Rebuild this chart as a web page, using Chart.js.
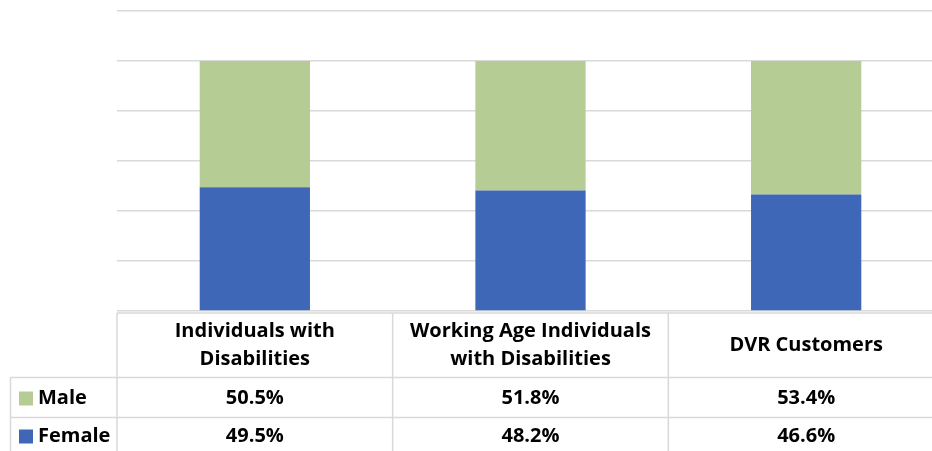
<!DOCTYPE html>
<html>
<head>
<meta charset="utf-8">
<script src="https://cdn.jsdelivr.net/npm/chart.js@4.4.0/dist/chart.umd.min.js"></script>
<style>
  html, body { margin: 0; padding: 0; background: #fff; overflow: hidden; }
  #wrap { width: 932px; height: 451px; overflow: hidden; position: relative; }
  #wrap canvas { position: absolute; left: 0; top: 0; }
</style>
</head>
<body>
<div id="wrap"><canvas id="barChart" width="944" height="451"></canvas></div>
<script>
// data
var categories = [
    ['Individuals with', 'Disabilities'],
    ['Working Age Individuals', 'with Disabilities'],
    ['DVR Customers']
];
var maleValues = [50.5, 51.8, 53.4];
var femaleValues = [49.5, 48.2, 46.6];
var yTicks = [0, 20, 40, 60, 80, 100, 120];

var green = '#b5cc95';
var blue = '#3e67b7';
var lineColor = '#d9d9d9';
var font = '700 20px "Open Sans", sans-serif';

// data table under the bars
var tablePlugin = {
    id: 'dataTable',
    afterDraw: function(chart) {
        var c = chart.ctx;
        var x = chart.scales.x;
        var area = chart.chartArea;
        var half = (x.getPixelForValue(1) - x.getPixelForValue(0)) / 2;
        var top = area.bottom + 2;
        var row1 = 377.5, row2 = 417.5, bottom = chart.height;
        var legLeft = 10.5;

        c.save();
        c.strokeStyle = lineColor;
        c.lineWidth = 1.5;
        c.beginPath();
        // horizontal
        c.moveTo(area.left, top); c.lineTo(area.right, top);
        c.moveTo(legLeft, row1); c.lineTo(area.right, row1);
        c.moveTo(legLeft, row2); c.lineTo(area.right, row2);
        // vertical
        c.moveTo(legLeft, row1); c.lineTo(legLeft, bottom);
        c.moveTo(area.left, top); c.lineTo(area.left, bottom);
        for (var i = 0; i < categories.length; i++) {
            var bx = x.getPixelForValue(i) + half;
            c.moveTo(bx, top); c.lineTo(bx, bottom);
        }
        c.stroke();

        c.fillStyle = '#000';
        c.font = font;
        c.textAlign = 'center';
        c.textBaseline = 'middle';
        var headMid = (top + row1) / 2;
        for (var j = 0; j < categories.length; j++) {
            var cx = x.getPixelForValue(j);
            var lines = categories[j];
            var lh = 28;
            var y0 = headMid - (lines.length - 1) * lh / 2;
            lines.forEach(function(t, k) { c.fillText(t, cx, y0 + k * lh); });
            c.fillText(maleValues[j].toFixed(1) + '%', cx, (row1 + row2) / 2 + 1);
            c.fillText(femaleValues[j].toFixed(1) + '%', cx, row2 + 19);
        }

        // legend keys
        c.textAlign = 'left';
        var ds = chart.data.datasets;
        var keys = [[ds[1], (row1 + row2) / 2 + 1], [ds[0], row2 + 19]];
        keys.forEach(function(k) {
            c.fillStyle = k[0].backgroundColor;
            c.fillRect(19, k[1] - 7, 14, 14);
            c.fillStyle = '#000';
            c.fillText(k[0].label, 38, k[1]);
        });
        c.restore();
    }
};

var ctx = document.getElementById('barChart').getContext('2d');
var myChart = new Chart(ctx, {
    type: 'bar',
    data: {
        labels: categories,
        datasets: [{
            label: 'Female',
            data: femaleValues,
            backgroundColor: blue,
            borderWidth: 0
        }, {
            label: 'Male',
            data: maleValues,
            backgroundColor: green,
            borderWidth: 0
        }]
    },
    options: {
        responsive: false,
        animation: false,
        layout: { padding: { left: 117, top: 11, bottom: 140, right: 0 } },
        plugins: {
            legend: { display: false },
            tooltip: { enabled: false }
        },
        datasets: {
            bar: { categoryPercentage: 1, barPercentage: 0.4 }
        },
        scales: {
            x: { stacked: true, display: false },
            y: {
                stacked: true,
                min: yTicks[0],
                max: yTicks[yTicks.length - 1],
                afterBuildTicks: function(axis) {
                    axis.ticks = yTicks.map(function(v) { return { value: v }; });
                },
                ticks: { display: false },
                border: { display: false },
                grid: { color: lineColor, lineWidth: 1.5, drawTicks: false }
            }
        }
    },
    plugins: [tablePlugin]
});
</script>
</body>
</html>
